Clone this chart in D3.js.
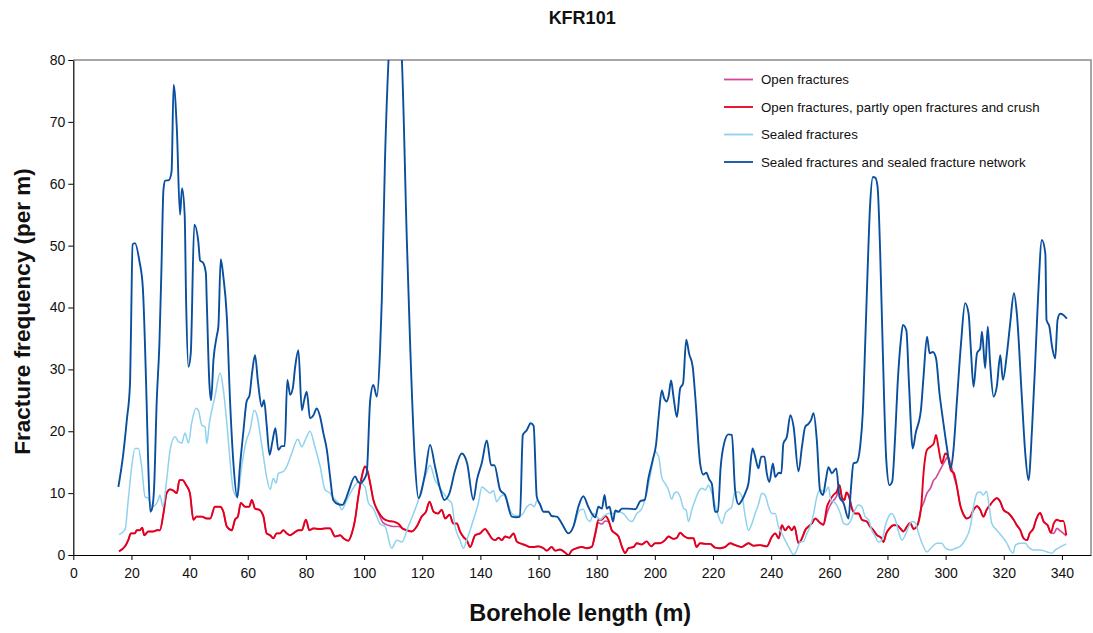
<!DOCTYPE html>
<html><head><meta charset="utf-8">
<script src="https://cdn.jsdelivr.net/npm/d3@7/dist/d3.min.js"></script>
<style>
html,body{margin:0;padding:0;background:#fff;}
svg text{font-family:"Liberation Sans",Arial,sans-serif;}
</style></head>
<body><svg id="c" width="1093" height="633"></svg>
<script>
const title = "KFR101";
const xLabel = "Borehole length (m)";
const yLabel = "Fracture frequency (per m)";
const xTicks = [0,20,40,60,80,100,120,140,160,180,200,220,240,260,280,300,320,340];
const yTicks = [0,10,20,30,40,50,60,70,80];
const seriesNames = ["Open fractures","Open fractures, partly open fractures and crush","Sealed fractures","Sealed fractures and sealed fracture network"];
const seriesColors = ["#d2479b","#e3001b","#8fd2ee","#0a4f9e"];

const openFractures = [[15.7,0.6],[17.8,1.4],[18.9,2.4],[19.8,3.5],[21.2,3.5],[21.8,4],[22.9,4],[23.7,4.4],[24.4,3.2],[25.8,3.8],[27.5,3.8],[28.7,4],[29.8,4],[31,6.7],[32.1,10],[33.3,10.6],[34.4,10.4],[35.6,10],[36.5,12.1],[37.6,12.1],[38.8,11.3],[40.1,10],[41.3,5.7],[42.4,6.2],[44.2,6.2],[45.9,5.9],[47.1,5.9],[48.7,7.8],[50.5,7.8],[51.6,7],[52.8,4.6],[54.5,4],[55.6,5.7],[56.6,6.2],[57.6,8.4],[59.1,7.8],[60.5,7.8],[61.4,8.9],[62.5,7.5],[64,7.3],[65.4,6.2],[66.5,3.5],[67.7,3.2],[68.8,2.7],[69.9,3.5],[71.1,3.5],[72.2,4],[73.4,3.5],[74.6,3.2],[75.7,3.5],[77.4,4],[78.6,4],[80,5.7],[81.2,4],[82.6,4.3],[84.9,4.2],[86.6,4.3],[88.3,4.3],[90,3],[91.8,3.2],[92.9,2.7],[94.6,2.3],[95.8,3.5],[96.9,5.7],[98,9.4],[99.2,12.6],[100.3,14.3],[100.9,14],[102.1,11.6],[103.2,8.9],[104.9,6.8],[106.6,5.2],[108.4,4.8],[110.1,4.6],[111.9,4.6],[113.2,4.3],[114.7,4],[116.4,3.8],[118.1,4.6],[119.8,6.2],[121.3,7],[122.5,8.6],[123.9,7],[125.4,6.7],[126.7,7.3],[127.9,5.9],[129.4,6.5],[130.7,5.1],[131.9,5.1],[133,3.8],[134.2,2.9],[135.3,2.4],[136.5,1.3],[138.2,3.2],[139.9,3.5],[141.6,4.2],[142.8,3.5],[143.9,2.7],[145.1,2.4],[146.2,2.8],[147.4,2.4],[148.5,3],[150,2.8],[151.4,3.5],[152.5,2.2],[153.6,1.9],[155.4,1.6],[157.1,1.3],[158.3,1.3],[160,1.4],[161.7,1.1],[162.8,0.7],[164.5,1.3],[165.7,0.7],[167.4,0.9],[169.1,0.4],[170.3,0],[171.4,0.7],[173.1,1.1],[174.9,1.3],[176.6,1.1],[178.3,1.3],[179.5,3.2],[180.6,5.2],[181.8,5],[182.9,5.5],[184,5.4],[185.2,4],[186.4,3.5],[187.5,3],[188.7,1.3],[189.8,0.3],[190.9,1.1],[192.7,1.3],[193.8,1.9],[195.5,1.7],[197.2,2.2],[198.7,1.4],[200.1,1.9],[201.8,1.9],[203.5,2.4],[204.7,3],[206.4,2.6],[207.6,2.8],[208.7,3.6],[209.9,3.1],[211.6,2.7],[213.3,2.7],[214.3,1.3],[215.6,1.9],[217.4,1.8],[219,1.8],[220.7,1.2],[222.5,1.1],[224.2,1.3],[225.9,1.9],[227.6,1.6],[229.9,1.3],[232.2,1.9],[233.9,1.5],[236.2,1.6],[238.5,1.4],[240.2,2.9],[241.4,3.5],[242.6,2.7],[243.7,4.8],[244.8,4],[246,4.6],[247.1,4],[248,4.6],[249.4,1.9],[250.6,2.7],[251.7,4],[252.8,4.6],[254,5.1],[255.2,5.9],[256.8,5.2],[258,4.9],[259.2,6.8],[260.3,8],[261.4,8.8],[262.5,9.5],[263.5,11.3],[264.4,9.2],[265.2,8.9],[265.9,10.1],[266.8,9.4],[267.8,7.5],[268.9,6.7],[270.1,6.7],[271.2,5.7],[272.9,5.4],[274,4.6],[275.2,4],[276.4,3.2],[277.8,2.8],[278.6,2.1],[279.6,3.5],[280.7,4.3],[282.1,4.8],[283.2,4.8],[284.4,4.3],[285.5,3.8],[286.7,4.6],[287.8,5.2],[289,4.2],[290.1,4.6],[291.6,7.5],[292.4,8.4],[293.6,10],[294.8,10.8],[295.9,12.1],[296.7,12.5],[297.5,13.2],[298.7,14.3],[299.9,15.3],[300.7,15.9],[301.8,14.6],[302.9,12.6],[303.9,11],[305,8.1],[306.2,6.5],[307.3,5.9],[308.5,6.2],[309.6,7.3],[310.8,7.9],[311.9,7.3],[313,6.2],[314.1,7.3],[315.3,8.1],[316.5,8.8],[317.6,9.2],[318.8,8.6],[319.9,7.3],[321.7,6.7],[323.4,5.7],[324.5,4.8],[325.7,4],[326.8,2.7],[328,2.4],[328.9,3.5],[330.2,4.3],[331.1,5.7],[332.5,6.8],[333.7,5.4],[335.1,4.8],[336.2,3.6],[337.2,3.5],[338.3,4.3],[339.4,3.9],[340.5,3.5],[341.5,3.1]];

const openPartlyCrush = [[15.7,0.6],[17.8,1.4],[18.9,2.4],[19.8,3.5],[21.2,3.5],[21.8,4],[22.9,4],[23.7,4.4],[24.4,3.2],[25.8,3.8],[27.5,3.8],[28.7,4],[29.8,4],[31,6.7],[32.1,10],[33.3,10.6],[34.4,10.4],[35.6,10],[36.5,12.1],[37.6,12.1],[38.8,11.3],[40.1,10],[41.3,5.7],[42.4,6.2],[44.2,6.2],[45.9,5.9],[47.1,5.9],[48.7,7.8],[50.5,7.8],[51.6,7],[52.8,4.6],[54.5,4],[55.6,5.7],[56.6,6.2],[57.6,8.4],[59.1,7.8],[60.5,7.8],[61.4,8.9],[62.5,7.5],[64,7.3],[65.4,6.2],[66.5,3.5],[67.7,3.2],[68.8,2.7],[69.9,3.5],[71.1,3.5],[72.2,4],[73.4,3.5],[74.6,3.2],[75.7,3.5],[77.4,4],[78.6,4],[80,5.7],[81.2,4],[82.6,4.3],[84.9,4.2],[86.6,4.3],[88.3,4.3],[90,3],[91.8,3.2],[92.9,2.7],[94.6,2.3],[95.8,3.5],[96.9,5.7],[98,9.4],[99.2,12.6],[100.3,14.3],[100.9,14],[102.1,11.6],[103.2,8.9],[104.9,7],[106.6,5.9],[108.4,5.5],[110.1,5.4],[111.9,5],[113.2,4.3],[114.7,4],[116.4,3.8],[118.1,4.6],[119.8,6.2],[121.3,7],[122.5,8.6],[123.9,7],[125.4,6.7],[126.7,7.3],[127.9,5.9],[129.4,6.5],[130.7,5.1],[131.9,5.1],[133,3.8],[134.2,2.9],[135.3,2.4],[136.5,1.3],[138.2,3.2],[139.9,3.5],[141.6,4.2],[142.8,3.5],[143.9,2.7],[145.1,2.4],[146.2,2.8],[147.4,2.4],[148.5,3],[150,2.8],[151.4,3.5],[152.5,2.2],[153.6,1.9],[155.4,1.6],[157.1,1.3],[158.3,1.3],[160,1.4],[161.7,1.1],[162.8,0.7],[164.5,1.3],[165.7,0.7],[167.4,0.9],[169.1,0.4],[170.3,0],[171.4,0.7],[173.1,1.1],[174.9,1.3],[176.6,1.1],[178.3,1.3],[179.5,3.5],[180.6,5.7],[181.8,5.7],[182.9,6.3],[184,5.7],[185.2,4],[186.4,3.5],[187.5,3],[188.7,1.3],[189.8,0.3],[190.9,1.1],[192.7,1.3],[193.8,1.9],[195.5,1.7],[197.2,2.2],[198.7,1.4],[200.1,1.9],[201.8,1.9],[203.5,2.4],[204.7,3],[206.4,2.6],[207.6,2.8],[208.7,3.6],[209.9,3.1],[211.6,2.7],[213.3,2.7],[214.3,1.3],[215.6,1.9],[217.4,1.8],[219,1.8],[220.7,1.2],[222.5,1.1],[224.2,1.3],[225.9,1.9],[227.6,1.6],[229.9,1.3],[232.2,1.9],[233.9,1.5],[236.2,1.6],[238.5,1.4],[240.2,2.9],[241.4,3.5],[242.6,2.7],[243.7,4.8],[244.8,4],[246,4.6],[247.1,4],[248,4.6],[249.4,1.9],[250.6,2.7],[251.7,4],[252.8,4.6],[254,5.1],[255.2,5.9],[256.8,5.2],[258,4.9],[259.2,7.8],[260.3,8.9],[261.4,9.7],[262.5,10.2],[263.5,11.3],[264.4,9.2],[265.2,8.9],[265.9,10.1],[266.8,9.4],[267.8,7.5],[268.9,6.7],[270.1,6.7],[271.2,5.7],[272.9,5.4],[274,4.6],[275.2,4],[276.4,3.2],[277.8,2.8],[278.6,2.1],[279.6,3.5],[280.7,4.3],[282.1,4.8],[283.2,4.8],[284.4,4.3],[285.5,3.8],[286.7,4.6],[287.8,5.2],[289,4.2],[290.1,4.6],[291.6,7.8],[292.4,13.2],[293.6,17],[294.8,17.5],[295.9,18],[296.7,19.4],[297.5,17.5],[298.7,14.8],[299.9,16.4],[300.7,16.1],[301.8,13.7],[302.9,13.2],[303.9,11],[305,8.1],[306.2,6.5],[307.3,5.9],[308.5,6.2],[309.6,7.3],[310.8,7.9],[311.9,7.3],[313,6.2],[314.1,7.3],[315.3,8.1],[316.5,8.8],[317.6,9.2],[318.8,8.6],[319.9,7.3],[321.7,6.7],[323.4,5.7],[324.5,4.8],[325.7,4],[326.8,2.7],[328,2.4],[328.9,3.5],[330.2,4.3],[331.1,5.7],[332.5,6.8],[333.7,5.4],[335.1,4.8],[336.2,3.6],[337.2,5.1],[338.3,5.7],[339.4,5.5],[340.5,5.5],[341.5,3.2]];

const sealedFractures = [[15.7,3.3],[17.8,4.1],[18.9,8.9],[20.1,14.3],[21.2,17.2],[22.4,17.2],[23.5,14.3],[24.7,9.4],[25.8,9.2],[27,7.8],[28.1,8],[29.2,8.9],[29.8,9.7],[30.8,7.8],[32.1,12.1],[33.3,17],[35,19.1],[36.2,18.3],[37.3,18.1],[38.4,19.7],[39.6,18.1],[40.7,21.3],[42.2,23.7],[43,23.4],[44.2,21],[45.3,20.7],[45.9,18],[46.8,21.3],[48.7,25.6],[50.5,29.4],[51.6,26.7],[52.8,21.3],[53.9,15.3],[55,10.5],[56.4,9.4],[57.9,14.3],[59.4,18.3],[60.8,20.2],[62.2,23.4],[63.3,22.3],[64.2,19.7],[65.4,15.9],[66.5,12.6],[67.7,10.6],[68.8,12.4],[69.7,11.6],[70.5,13.2],[72.3,13.5],[73.4,14.3],[75.1,16.4],[77.2,18.7],[78.6,17.5],[79.8,18.6],[81.4,20],[83.1,17.5],[84.9,14.3],[86.6,10.5],[88.3,10],[89.4,9.2],[91.2,8.4],[92.3,7.3],[94.1,8.9],[96.3,10.8],[98,11.8],[100.3,11],[101.5,8.4],[103.2,7.5],[104.4,6.2],[105.5,5],[107.2,4.6],[109.5,1.1],[111.3,2.4],[113,2.1],[115.2,4.6],[117,6.7],[118.7,8.9],[121,12.6],[122.7,14.5],[124.4,12.1],[125.5,11.3],[127.3,10],[129,8.9],[130.1,8.4],[131.3,4.6],[133,2.4],[134.2,1.1],[135.3,2.4],[137.6,5.7],[139.3,8.4],[140.5,11],[142,10.5],[143.3,10],[144.5,10.4],[145.6,8.6],[146.8,9.4],[147.9,9.7],[149.1,8.9],[150.8,6.7],[152.5,6.3],[154.3,6.5],[156,7.8],[157.3,8.2],[158.5,7.8],[159.6,8.9],[160.5,8.2],[161.7,7],[163.4,7],[164.5,6.3],[166.3,6.2],[168,5.1],[170.3,3.5],[172,4.6],[174.3,7.3],[175.4,7.4],[176.6,5.9],[177.7,5.4],[178.9,6.7],[180,6.2],[181.2,5.7],[182.3,6.2],[184,6.7],[185.7,6.7],[187.5,7],[189.2,6.7],[190.9,5.7],[192.1,5.4],[193.8,6.7],[195.5,7.5],[197.2,10],[198.6,13.2],[200.1,16.7],[201.3,15.9],[202.4,12.5],[203.5,11.6],[204.7,10.5],[205.8,9],[206.7,10],[207.6,10.2],[208.7,9.4],[209.9,7.5],[210.7,7.3],[211.6,5.4],[212.7,7.3],[213.9,8.9],[215,10.2],[216.2,10.8],[217.4,10.5],[218.4,11.3],[219.6,10],[220.7,8.1],[221.9,6.2],[223.1,5.1],[224.2,6.7],[225.4,7.3],[226.5,7.8],[227.4,10],[228.6,10.2],[230,9.4],[231.1,6.2],[232.2,4],[233.4,5.1],[234.5,6.7],[235.6,8.1],[236.8,10],[237.9,9.7],[239.1,7.8],[240.2,6.7],[241.4,6.7],[242.5,4.6],[243.7,3.5],[244.8,2.4],[246.6,0.8],[247.7,0],[248.8,0.8],[250,2.1],[251.1,2.2],[252.3,3.5],[253.4,4.6],[254.6,6.7],[255.7,9.4],[256.8,10.5],[258.6,10.2],[259.7,11],[260.5,8.9],[261.6,8.6],[262.5,8.1],[263.8,6.7],[264.9,5.1],[266,4.9],[267.2,5.4],[268.3,6.7],[270,8.1],[271.2,7.8],[272.3,6.2],[273.5,5.7],[274.6,4],[275.8,3],[276.9,2.1],[278.1,2.4],[279.2,4.6],[280.4,6.2],[281.5,6.7],[282.7,5.7],[283.8,3.8],[285,2.4],[286.1,3.2],[287.3,4.6],[288.4,5.4],[289.6,5.2],[290.7,3.5],[291.9,1.9],[293.6,0.5],[295.3,1.3],[297,1.9],[298.7,1.9],[299.9,1.1],[301.8,0.8],[303.5,1.1],[305,1.4],[306.7,2.4],[308.5,4.6],[309.6,7.8],[310.8,10],[311.9,10.2],[312.9,9.7],[314.1,10.3],[315,7.8],[315.9,5.1],[317.6,4],[319.4,3],[321.1,1.9],[322.2,0.8],[323.2,0.3],[324,1.6],[325.7,1.9],[327.4,1.9],[328.5,1.3],[330.2,0.8],[332.5,0.8],[334.9,0.5],[336.6,0.3],[337.7,0.8],[339.4,1.3],[341.5,1.8]];

const sealedNetwork = [[15.5,11],[17.2,16.4],[18.4,21.8],[19.5,27.7],[19.8,35],[20.4,50.2],[21.2,50.4],[22.7,47.6],[23.9,43.3],[25.2,25],[25.8,14.3],[26.5,7],[27.1,7.5],[27.8,11],[28.7,25],[29.6,34],[30.3,46],[31,59],[31.6,60.5],[32.9,60.6],[33.8,62],[34.5,76],[35.6,69],[36.7,55],[37.4,59.3],[38.3,55],[38.8,41],[39.6,30.4],[40.4,32.6],[41.6,53.4],[43,50.6],[43.6,47.6],[44.7,47.2],[45.6,45.5],[45.9,41],[46.8,27.7],[47.4,25],[48.2,31.5],[49.3,35.3],[49.9,37],[50.7,47.8],[51.6,45],[52.8,38.5],[53.9,25],[55,15.3],[56.4,9.3],[57.3,14.3],[58.5,20],[59.6,24.8],[60.6,25.8],[61.5,29.5],[62.5,32.3],[63.5,28],[64.8,24],[65.6,25],[66.5,21],[67.5,16.2],[68.5,18.4],[69.5,20.5],[70.5,17],[71.7,17.6],[72.7,17.6],[73.6,28.3],[74.6,25.9],[75.5,27],[76.3,30.4],[77.4,33.1],[78.6,23.4],[79.4,25],[80.3,26.4],[81.4,22.1],[82.6,22.6],[83.7,23.7],[84.9,22.3],[86,19.7],[87.2,17],[88.3,12.7],[89.4,8.9],[91.2,8.2],[92.6,8.1],[93.6,8.9],[94.6,10.2],[96.9,12.7],[98,11.8],[98.9,11.6],[99.8,12.1],[100.9,13.2],[102.1,25],[103.2,27.5],[104.4,25.6],[105.5,33.1],[106.1,41.2],[107.2,64],[108.4,80],[110.7,92],[113,80],[114.7,51],[115.8,34.7],[117.5,15],[118.7,9.2],[121,13.2],[122.7,17.8],[124.4,14.3],[126.1,10.8],[127.6,8.9],[129.3,9.9],[131.3,13.7],[133.6,16.4],[135.4,14.9],[137.6,8.9],[138.8,12.1],[140.5,14.9],[142.2,18.5],[143.7,14.5],[144.8,14.5],[146.8,10.5],[148.5,9.7],[150.8,6.2],[152.5,6.1],[153.6,6.2],[154.6,19.4],[156,20.2],[157.3,21.3],[158.3,20.9],[159.4,9.4],[160.5,8.2],[161.7,7],[163.4,7],[164.5,6.3],[166.3,6.2],[168,5.1],[170.3,3.5],[172,4.6],[173.7,7.8],[175.4,9.5],[177.1,7.8],[178.3,6.7],[179.5,6.1],[180.6,7.8],[181.8,7.5],[182.7,9.7],[183.5,7.5],[184.4,7.8],[185.6,5.4],[186.4,7.2],[187.5,7],[188.7,7.5],[190.4,7.5],[193.3,7.4],[195,8.7],[196.5,8.9],[197.8,12.4],[199.3,15.4],[200.4,17.8],[201.3,22.3],[202.4,26.6],[203.2,25.3],[204.1,24.8],[204.7,25.6],[205.6,28.2],[206.4,25.6],[207.6,22.3],[208.7,26.9],[209.7,27.7],[210.8,34.8],[211.8,32.5],[213,30.5],[214,25],[215.6,14.7],[216.7,13],[217.7,13.3],[218.7,12.2],[219.6,11.5],[220.7,7],[221.7,7],[222.6,14],[223.8,18],[225.3,19.5],[226.5,19.4],[227.6,10.5],[228.8,8.2],[230,8.9],[231.1,10],[232.2,11.6],[233.6,17.2],[234.5,15.9],[235.6,14],[236.6,15.9],[237.7,15.9],[238.5,13.2],[239.4,11.8],[240.6,14.8],[241.4,12.6],[242.6,13.3],[243.5,13.2],[244.2,18],[245.4,19.1],[246.6,22.6],[247.7,20.8],[249.4,13.5],[250.6,17.5],[251.7,20.7],[252.8,21.2],[253.7,21.8],[254.6,22.9],[255.7,18.6],[256.8,10.5],[257.8,9.7],[258.8,12.1],[259.7,14.2],[260.9,13.2],[262.4,14],[263.5,9.4],[264.9,8.4],[266.6,5.9],[267.4,10.5],[268.3,14.8],[269.5,15],[270.6,17.5],[271.5,22.9],[272.4,35],[273.1,45],[274,56.3],[275,61.1],[275.8,61],[276.6,59.5],[277.5,48.8],[278.3,34.7],[279.6,15.3],[280.7,11.3],[281.6,11.8],[282.7,19.7],[283.5,27.7],[284.6,34.7],[285.3,37.2],[286.5,36.3],[287.4,27.7],[288.7,17.2],[289.7,19.7],[291.5,23.4],[292.4,28.8],[293.6,35.3],[294.5,32.6],[295.6,32.8],[296.7,31.8],[297.9,26.1],[299.1,21.8],[300.4,17.5],[301.8,14],[302.7,17],[303.9,25],[305.3,34.2],[306.7,40.7],[307.9,39],[308.7,33.1],[309.6,27.2],[310.8,32.6],[311.9,33.4],[312.5,36.1],[313.6,30.2],[314.5,36.9],[315.3,31],[316.5,25.6],[317.6,27.2],[318.8,32.3],[319.7,28.3],[321.1,32.6],[322.2,37.4],[323.5,42.3],[324.5,39],[326.2,25.6],[327.4,16.4],[328.5,12.1],[329.7,20.2],[330.8,31],[331.8,41.7],[333.1,50.9],[334.3,48.7],[334.7,38],[335.7,36.9],[336.6,33.7],[337.7,31.8],[338.5,38],[339.4,39],[340.5,38.8],[341.7,38.2]];

const allSeries = [openFractures, openPartlyCrush, sealedFractures, sealedNetwork];
const widths = [1.6, 1.9, 1.5, 1.9];

const svg = d3.select("#c");
const m = {left:73.3, right:1091, top:60, bottom:555};
const x = d3.scaleLinear().domain([0,350]).range([m.left, m.right]);
const y = d3.scaleLinear().domain([0,80]).range([m.bottom, m.top]);

svg.append("defs").append("clipPath").attr("id","clip")
  .append("rect").attr("x",m.left).attr("y",m.top).attr("width",m.right-m.left).attr("height",m.bottom-m.top);

svg.append("path").attr("d",`M${m.left},${m.top}H${m.right}V${m.bottom}`)
  .attr("fill","none").attr("stroke","#8a8a8a").attr("stroke-width",1.5);

const line = d3.line().x(d=>x(d[0])).y(d=>y(d[1])).curve(d3.curveMonotoneX);
const g = svg.append("g").attr("clip-path","url(#clip)");
allSeries.forEach((s,i)=>{
  g.append("path").datum(s).attr("d",line).attr("fill","none")
    .attr("stroke",seriesColors[i]).attr("stroke-width",widths[i]).attr("stroke-linejoin","round");
});

const xAxis = d3.axisBottom(x).tickValues(xTicks).tickSize(5).tickSizeOuter(0);
const gx = svg.append("g").attr("transform",`translate(0,${m.bottom})`).call(xAxis);
gx.select(".domain").attr("stroke","#000").attr("stroke-width",1.2);
gx.selectAll(".tick line").attr("stroke","#000");
gx.selectAll("text").attr("font-size",14).attr("fill","#111").attr("dy","1.05em");

const yAxis = d3.axisLeft(y).tickValues(yTicks).tickSize(5).tickSizeOuter(0);
const gy = svg.append("g").attr("transform",`translate(${m.left},0)`).call(yAxis);
gy.select(".domain").attr("stroke","#000").attr("stroke-width",1.2);
gy.selectAll(".tick line").attr("stroke","#000");
gy.selectAll("text").attr("font-size",14).attr("fill","#111").attr("x",-8);

svg.append("text").attr("x",(m.left+m.right)/2).attr("y",24).attr("text-anchor","middle")
  .attr("font-size",18).attr("font-weight","bold").attr("fill","#111").text(title);
svg.append("text").attr("x",(m.left+m.right)/2 - 2).attr("y",621).attr("text-anchor","middle")
  .attr("font-size",23.5).attr("font-weight","bold").attr("fill","#111").text(xLabel);
svg.append("text").attr("transform",`translate(30,${(m.top+m.bottom)/2 + 4}) rotate(-90)`).attr("text-anchor","middle")
  .attr("font-size",22.5).attr("font-weight","bold").attr("fill","#111").text(yLabel);

const ly = [79.5, 107, 134.5, 162];
seriesNames.forEach((n,i)=>{
  svg.append("line").attr("x1",724).attr("x2",753).attr("y1",ly[i]).attr("y2",ly[i])
    .attr("stroke",seriesColors[i]).attr("stroke-width",1.8);
  svg.append("text").attr("x",761).attr("y",ly[i]+4.5).attr("font-size",13.3).attr("fill","#111").text(n);
});
</script></body></html>
